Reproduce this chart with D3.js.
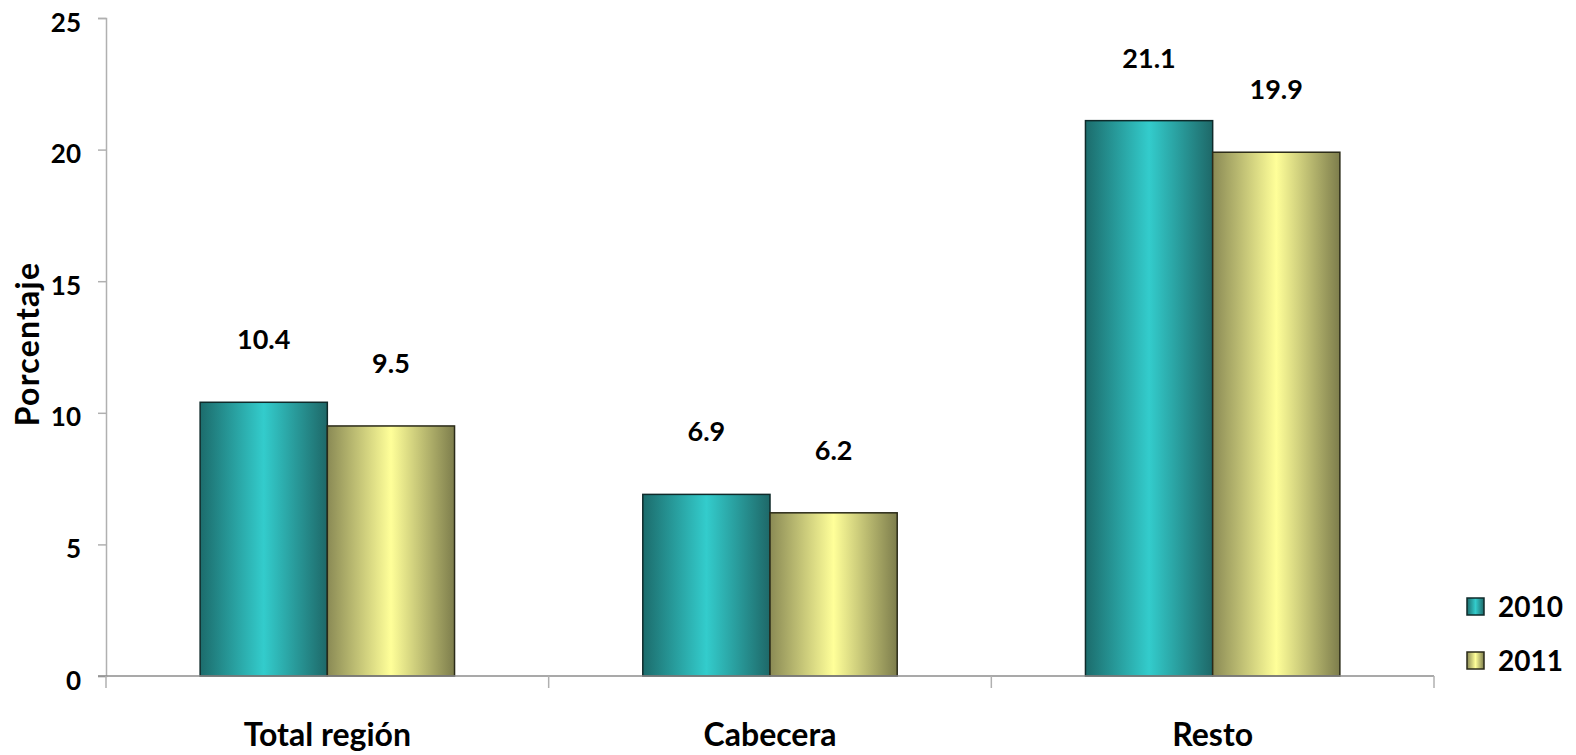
<!DOCTYPE html>
<html><head><meta charset="utf-8">
<script src="https://cdn.jsdelivr.net/npm/d3@7/dist/d3.min.js"></script>
<style>body{margin:0;background:#fff}text{font-family:Lato,"Open Sans",sans-serif;font-weight:bold}</style>
</head><body><svg id="c" width="1576" height="755"></svg>
<script>
const categories = ["Total región", "Cabecera", "Resto"];
const series = ["2010", "2011"];
const values2010 = [10.4, 6.9, 21.1];
const values2011 = [9.5, 6.2, 19.9];
const yTicks = [0, 5, 10, 15, 20, 25];

const svg = d3.select("#c");
const x0 = 106, x1 = 1434, yTop = 18, yBot = 676;
const x = d3.scaleBand().domain(categories).range([x0, x1]).paddingInner(0).paddingOuter(0);
const xs = d3.scaleBand().domain(series).range([0, x.bandwidth()]).paddingInner(0).paddingOuter(0.74);
const y = d3.scaleLinear().domain([0, 25]).range([yBot, yTop]);

const defs = svg.append("defs");
function grad(id, edgeL, mid, edgeR) {
  const g = defs.append("linearGradient").attr("id", id).attr("x1", "0").attr("x2", "1").attr("y1", "0").attr("y2", "0");
  g.append("stop").attr("offset", "0").attr("stop-color", edgeL);
  g.append("stop").attr("offset", "0.5").attr("stop-color", mid);
  g.append("stop").attr("offset", "1").attr("stop-color", edgeR);
}
grad("g2010", "#1c6c6c", "#33cccc", "#1e6868");
grad("g2011", "#8a8a55", "#ffff99", "#7d7d4c");
const fills = {"2010": "url(#g2010)", "2011": "url(#g2011)"};
const strokes = {"2010": "#0f2a2a", "2011": "#2a2a18"};

// y axis
const yAxis = svg.append("g").attr("transform", `translate(${x0},0)`)
  .call(d3.axisLeft(y).tickValues(yTicks).tickSize(8).tickPadding(17));
yAxis.select(".domain").attr("stroke", "#b0b0b0").attr("stroke-width", 1.5);
yAxis.selectAll(".tick line").attr("stroke", "#b0b0b0").attr("stroke-width", 1.5);
yAxis.selectAll("text").attr("font-size", 26).attr("fill", "#000").attr("dy", "0.5em").style("font-family", "Lato");

// bars
const data = categories.map((c, i) => ({c, vals: [{s: "2010", v: values2010[i]}, {s: "2011", v: values2011[i]}]}));
const gs = svg.append("g").selectAll("g").data(data).join("g")
  .attr("transform", d => `translate(${x(d.c)},0)`);
gs.selectAll("rect").data(d => d.vals).join("rect")
  .attr("x", d => xs(d.s)).attr("width", xs.bandwidth())
  .attr("y", d => y(d.v)).attr("height", d => y(0) - y(d.v))
  .attr("fill", d => fills[d.s]).attr("stroke", d => strokes[d.s]).attr("stroke-width", 1.5);
gs.selectAll("text.v").data(d => d.vals).join("text").attr("class", "v")
  .attr("x", d => xs(d.s) + xs.bandwidth() / 2).attr("y", d => y(d.v) - 53)
  .attr("text-anchor", "middle").attr("font-size", 27).text(d => d.v.toFixed(1));

// x axis
const xAxisG = svg.append("g").attr("transform", `translate(0,${yBot})`);
xAxisG.append("line").attr("x1", x0 - 8).attr("x2", x1).attr("stroke", "#8c8c8c").attr("stroke-width", 1.5);
xAxisG.selectAll("line.t").data(categories.concat(["end"])).join("line").attr("class", "t")
  .attr("x1", (d, i) => x0 + i * x.bandwidth()).attr("x2", (d, i) => x0 + i * x.bandwidth())
  .attr("y1", 0).attr("y2", 12).attr("stroke", "#b0b0b0").attr("stroke-width", 1.5);
xAxisG.selectAll("text").data(categories).join("text")
  .attr("x", d => x(d) + x.bandwidth() / 2).attr("y", 70)
  .attr("text-anchor", "middle").attr("font-size", 32).text(d => d);

// y title
svg.append("text").attr("transform", "translate(39,344) rotate(-90)")
  .attr("text-anchor", "middle").attr("font-size", 32).attr("letter-spacing", 1.2).text("Porcentaje");

// legend
const leg = svg.append("g").selectAll("g").data(series).join("g")
  .attr("transform", (d, i) => `translate(1467,${598 + i * 54})`);
leg.append("rect").attr("width", 17).attr("height", 17)
  .attr("fill", d => fills[d]).attr("stroke", d => strokes[d]).attr("stroke-width", 1.5);
leg.append("text").attr("x", 31).attr("y", 19).attr("font-size", 28).text(d => d);
</script></body></html>
